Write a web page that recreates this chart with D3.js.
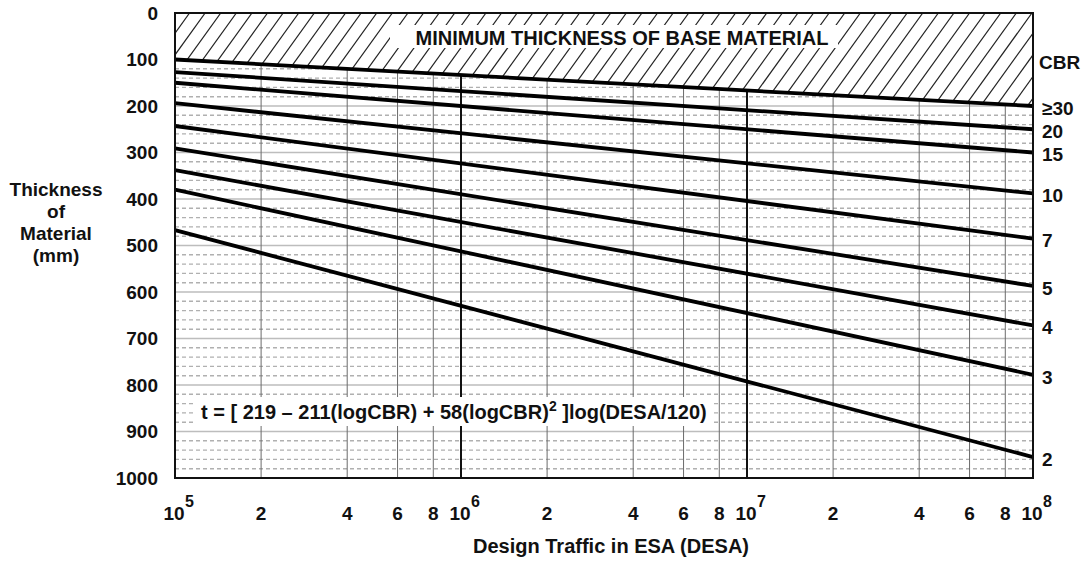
<!DOCTYPE html>
<html><head><meta charset="utf-8">
<script src="https://cdn.jsdelivr.net/npm/d3@7"></script>
<style>
body{margin:0;background:#fff;}
svg{display:block;font-family:"Liberation Sans",Arial,sans-serif;font-weight:bold;}
</style></head>
<body>
<svg id="chart" width="1088" height="561"></svg>
<script>
// ---- data ----
const cbrLabels = ["≥30","20","15","10","7","5","4","3","2"];
const thicknessAt1e5 = [100,127,150,194,243,291,338,380,467];
const thicknessAt1e8 = [200,250,300,388,485,587,672,778,955];
const desaEnds = [1e5, 1e8];
const yTickValues = [0,100,200,300,400,500,600,700,800,900,1000];
const decadeTicks = [1e5,1e6,1e7,1e8];
const decadeExponents = ["5","6","7","8"];
const minorMultipliers = [2,4,6,8];

const svg = d3.select("#chart");
const X0=175, X1=1033, Y0=13, Y1=478;
const x = d3.scaleLog().domain([1e5,1e8]).range([X0,X1]);
const y = d3.scaleLinear().domain([0,1000]).range([Y0,Y1]);

// grid: minor dashed horizontals every 20
const g = svg.append("g");
const minorY = d3.range(0,1001,20).filter(v=>v%100!==0);
g.selectAll(".hm").data(minorY).join("line")
  .attr("x1",X0).attr("x2",X1).attr("y1",d=>y(d)).attr("y2",d=>y(d))
  .attr("stroke","#b0b0b0").attr("stroke-width",1.4).attr("stroke-dasharray","4,3");
g.selectAll(".hM").data(yTickValues).join("line")
  .attr("x1",X0).attr("x2",X1).attr("y1",d=>y(d)).attr("y2",d=>y(d))
  .attr("stroke","#bdbdbd").attr("stroke-width",1.6);

// vertical minor lines
const minorX = [];
[1e5,1e6,1e7].forEach(dec=>minorMultipliers.forEach(m=>minorX.push(dec*m)));
g.selectAll(".vm").data(minorX).join("line")
  .attr("x1",d=>x(d)).attr("x2",d=>x(d)).attr("y1",Y0).attr("y2",Y1)
  .attr("stroke","#6a6a6a").attr("stroke-width",1);
g.selectAll(".vM").data([1e6,1e7]).join("line")
  .attr("x1",d=>x(d)).attr("x2",d=>x(d)).attr("y1",Y0).attr("y2",Y1)
  .attr("stroke","#111").attr("stroke-width",2);

// hatched region (above CBR>=30 line)
const hatchPoly = [[X0,Y0],[X1,Y0],[x(desaEnds[1]),y(thicknessAt1e8[0])],[x(desaEnds[0]),y(thicknessAt1e5[0])]];
const defs = svg.append("defs");
defs.append("clipPath").attr("id","hclip").append("polygon")
  .attr("points",hatchPoly.map(p=>p.join(",")).join(" "));
svg.append("polygon").attr("points",hatchPoly.map(p=>p.join(",")).join(" ")).attr("fill","#fff");
const hg = svg.append("g").attr("clip-path","url(#hclip)");
const hh = y(thicknessAt1e8[0]) - Y0 + 10;
const hatchXs = d3.range(X0-200, X1+20, 15.6);
hg.selectAll("line").data(hatchXs).join("line")
  .attr("x1",d=>d).attr("y1",Y0+hh).attr("x2",d=>d+hh*0.72).attr("y2",Y0)
  .attr("stroke","#222").attr("stroke-width",1.2);
// white band for caption
svg.append("rect").attr("x",390).attr("y",25).attr("width",448).attr("height",23).attr("fill","#fff");
svg.append("text").attr("x",622).attr("y",45).attr("text-anchor","middle")
  .attr("font-size",20).attr("fill","#111").text("MINIMUM THICKNESS OF BASE MATERIAL");

// CBR lines
const lineGen = d3.line().x(d=>x(d[0])).y(d=>y(d[1]));
const lineData = cbrLabels.map((c,i)=>({c, pts:[[desaEnds[0],thicknessAt1e5[i]],[desaEnds[1],thicknessAt1e8[i]]]}));
svg.append("g").selectAll("path").data(lineData).join("path")
  .attr("d",d=>lineGen(d.pts)).attr("fill","none").attr("stroke","#000").attr("stroke-width",3.8);

// formula box
svg.append("rect").attr("x",193).attr("y",397).attr("width",520).attr("height",29).attr("fill","#fff");
const ft = svg.append("text").attr("x",201).attr("y",419).attr("font-size",20).attr("fill","#111");
ft.append("tspan").text("t = [ 219 – 211(logCBR) + 58(logCBR)");
ft.append("tspan").attr("font-size",14).attr("dy",-8).text("2");
ft.append("tspan").attr("dy",8).text(" ]log(DESA/120)");

// frame
svg.append("rect").attr("x",X0).attr("y",Y0).attr("width",X1-X0).attr("height",Y1-Y0)
  .attr("fill","none").attr("stroke","#111").attr("stroke-width",2);

// left axis labels
svg.append("g").selectAll("text").data(yTickValues).join("text")
  .attr("x",158).attr("y",d=>y(d)).attr("dy","0.36em").attr("text-anchor","end")
  .attr("font-size",19).attr("fill","#111").text(d=>d);

// left title
const lt = svg.append("text").attr("font-size",19).attr("fill","#111").attr("text-anchor","middle");
["Thickness","of","Material","(mm)"].forEach((s,i)=>lt.append("tspan").attr("x",56).attr("y",196+i*22).text(s));

// bottom labels
const bx = svg.append("g");
bx.selectAll(".dec").data(decadeTicks).join("text")
  .attr("x",d=>x(d)-1).attr("y",520).attr("text-anchor","middle").attr("font-size",19).attr("fill","#111").text("10");
bx.selectAll(".exp").data(decadeTicks).join("text")
  .attr("x",d=>x(d)+10).attr("y",507).attr("font-size",16).attr("fill","#111").text((d,i)=>decadeExponents[i]);
bx.selectAll(".min").data(minorX).join("text")
  .attr("x",d=>x(d)).attr("y",520).attr("text-anchor","middle").attr("font-size",19).attr("fill","#111")
  .text(d=>Math.round(d/Math.pow(10,Math.floor(Math.log10(d)))));
svg.append("text").attr("x",611).attr("y",553).attr("text-anchor","middle").attr("font-size",20).attr("fill","#111")
  .text("Design Traffic in ESA (DESA)");

// right labels
svg.append("text").attr("x",1039).attr("y",62).attr("dy","0.36em").attr("font-size",19).attr("fill","#111").text("CBR");
svg.append("g").selectAll("text").data(lineData).join("text")
  .attr("x",1042).attr("y",(d,i)=>y(thicknessAt1e8[i])+2).attr("dy","0.36em")
  .attr("font-size",19).attr("fill","#111").text(d=>d.c);
</script>
</body></html>
